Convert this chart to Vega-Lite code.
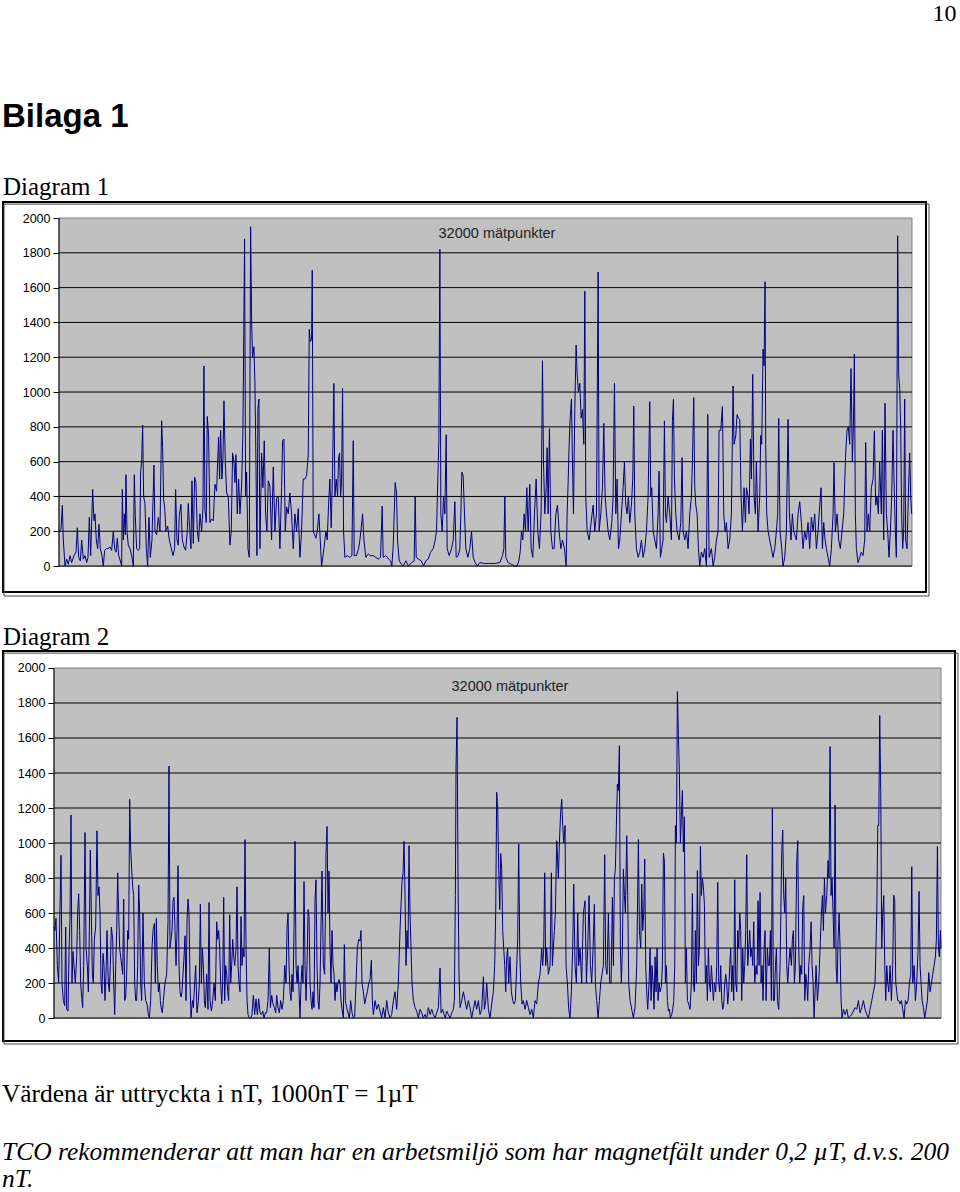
{
"$schema": "https://vega.github.io/schema/vega-lite/v6.json",
"background": "white",
"padding": {"left": 2, "top": 2, "right": 0, "bottom": 0},
"config": {
  "view": {"stroke": "black", "strokeWidth": 2, "fill": "white"},
  "axis": {"labelFont": "Liberation Sans", "labelFontSize": 12.5, "labelColor": "black", "tickColor": "black"}
},
"datasets": {
"d1": [
{"i":0,"v":200},{"i":75,"v":210},{"i":125,"v":350},{"i":162,"v":150},{"i":225,"v":0},{"i":288,"v":40},{"i":350,"v":10},{"i":412,"v":60},{"i":475,"v":20},{"i":562,"v":60},{"i":638,"v":80},{"i":688,"v":220},{"i":738,"v":50},{"i":800,"v":30},{"i":850,"v":150},{"i":912,"v":40},{"i":975,"v":60},{"i":1038,"v":20},{"i":1088,"v":50},{"i":1138,"v":280},{"i":1188,"v":60},{"i":1262,"v":440},{"i":1312,"v":260},{"i":1350,"v":300},{"i":1400,"v":150},{"i":1450,"v":100},{"i":1500,"v":240},{"i":1550,"v":100},{"i":1612,"v":60},{"i":1662,"v":0},{"i":1712,"v":90},{"i":1775,"v":100},{"i":1838,"v":100},{"i":1912,"v":110},{"i":1975,"v":90},{"i":2038,"v":200},{"i":2088,"v":100},{"i":2138,"v":80},{"i":2188,"v":160},{"i":2238,"v":60},{"i":2300,"v":30},{"i":2350,"v":0},{"i":2375,"v":440},{"i":2412,"v":150},{"i":2450,"v":300},{"i":2488,"v":180},{"i":2512,"v":525},{"i":2550,"v":200},{"i":2600,"v":120},{"i":2662,"v":100},{"i":2725,"v":60},{"i":2788,"v":0},{"i":2825,"v":525},{"i":2862,"v":290},{"i":2912,"v":100},{"i":2975,"v":90},{"i":3025,"v":100},{"i":3062,"v":540},{"i":3100,"v":600},{"i":3138,"v":810},{"i":3175,"v":400},{"i":3225,"v":360},{"i":3275,"v":100},{"i":3325,"v":0},{"i":3375,"v":280},{"i":3425,"v":50},{"i":3488,"v":150},{"i":3562,"v":580},{"i":3600,"v":200},{"i":3662,"v":180},{"i":3725,"v":280},{"i":3788,"v":200},{"i":3850,"v":835},{"i":3888,"v":680},{"i":3925,"v":380},{"i":3962,"v":340},{"i":4012,"v":200},{"i":4075,"v":230},{"i":4138,"v":150},{"i":4200,"v":110},{"i":4275,"v":60},{"i":4338,"v":100},{"i":4375,"v":440},{"i":4425,"v":150},{"i":4475,"v":120},{"i":4512,"v":290},{"i":4575,"v":355},{"i":4625,"v":150},{"i":4688,"v":110},{"i":4750,"v":90},{"i":4812,"v":200},{"i":4850,"v":360},{"i":4900,"v":220},{"i":4950,"v":100},{"i":4988,"v":490},{"i":5038,"v":130},{"i":5088,"v":510},{"i":5138,"v":480},{"i":5188,"v":200},{"i":5238,"v":140},{"i":5288,"v":300},{"i":5350,"v":200},{"i":5400,"v":330},{"i":5438,"v":1150},{"i":5475,"v":320},{"i":5525,"v":250},{"i":5562,"v":860},{"i":5612,"v":750},{"i":5662,"v":250},{"i":5725,"v":270},{"i":5788,"v":260},{"i":5850,"v":470},{"i":5912,"v":430},{"i":5950,"v":600},{"i":5988,"v":740},{"i":6025,"v":500},{"i":6062,"v":780},{"i":6112,"v":500},{"i":6150,"v":620},{"i":6188,"v":950},{"i":6238,"v":600},{"i":6288,"v":420},{"i":6350,"v":400},{"i":6412,"v":120},{"i":6462,"v":200},{"i":6512,"v":650},{"i":6562,"v":600},{"i":6600,"v":480},{"i":6638,"v":640},{"i":6688,"v":300},{"i":6738,"v":500},{"i":6788,"v":300},{"i":6850,"v":460},{"i":6900,"v":780},{"i":6962,"v":1880},{"i":7000,"v":400},{"i":7038,"v":540},{"i":7088,"v":100},{"i":7138,"v":50},{"i":7188,"v":1950},{"i":7225,"v":1420},{"i":7262,"v":1200},{"i":7312,"v":1260},{"i":7350,"v":1050},{"i":7388,"v":600},{"i":7425,"v":60},{"i":7462,"v":900},{"i":7500,"v":960},{"i":7538,"v":100},{"i":7600,"v":650},{"i":7650,"v":450},{"i":7700,"v":720},{"i":7750,"v":300},{"i":7800,"v":200},{"i":7850,"v":490},{"i":7912,"v":460},{"i":7975,"v":150},{"i":8038,"v":570},{"i":8100,"v":200},{"i":8162,"v":390},{"i":8225,"v":400},{"i":8288,"v":100},{"i":8350,"v":450},{"i":8388,"v":720},{"i":8438,"v":730},{"i":8488,"v":200},{"i":8538,"v":340},{"i":8600,"v":300},{"i":8662,"v":420},{"i":8725,"v":300},{"i":8788,"v":100},{"i":8850,"v":300},{"i":8912,"v":200},{"i":8975,"v":330},{"i":9038,"v":50},{"i":9100,"v":200},{"i":9162,"v":500},{"i":9225,"v":500},{"i":9288,"v":520},{"i":9350,"v":640},{"i":9388,"v":1360},{"i":9425,"v":1290},{"i":9475,"v":1300},{"i":9500,"v":1700},{"i":9538,"v":200},{"i":9588,"v":180},{"i":9638,"v":160},{"i":9688,"v":200},{"i":9750,"v":300},
{"i":9850,"v":0},{"i":9938,"v":100},{"i":10012,"v":200},{"i":10062,"v":150},{"i":10112,"v":350},{"i":10162,"v":500},{"i":10212,"v":220},{"i":10262,"v":550},{"i":10312,"v":1050},{"i":10350,"v":400},{"i":10400,"v":500},{"i":10450,"v":400},{"i":10488,"v":620},{"i":10525,"v":650},{"i":10562,"v":400},{"i":10600,"v":480},{"i":10638,"v":1020},{"i":10675,"v":200},{"i":10725,"v":50},{"i":10812,"v":60},{"i":10912,"v":50},{"i":10988,"v":60},{"i":11038,"v":720},{"i":11075,"v":60},{"i":11162,"v":60},{"i":11238,"v":100},{"i":11288,"v":150},{"i":11338,"v":220},{"i":11388,"v":300},{"i":11438,"v":150},{"i":11512,"v":50},{"i":11600,"v":70},{"i":11688,"v":60},{"i":11788,"v":60},{"i":11888,"v":50},{"i":11975,"v":40},{"i":12062,"v":50},{"i":12125,"v":345},{"i":12162,"v":50},{"i":12262,"v":60},{"i":12362,"v":40},{"i":12438,"v":30},{"i":12488,"v":0},{"i":12538,"v":120},{"i":12575,"v":300},{"i":12612,"v":480},{"i":12662,"v":420},{"i":12700,"v":150},{"i":12762,"v":30},{"i":12850,"v":10},{"i":12912,"v":0},{"i":13012,"v":30},{"i":13112,"v":0},{"i":13225,"v":20},{"i":13325,"v":30},{"i":13362,"v":400},{"i":13400,"v":50},{"i":13488,"v":40},{"i":13588,"v":30},{"i":13675,"v":0},{"i":13762,"v":30},{"i":13850,"v":40},{"i":13938,"v":80},{"i":14038,"v":100},{"i":14112,"v":150},{"i":14162,"v":200},{"i":14212,"v":500},{"i":14250,"v":720},{"i":14288,"v":1820},{"i":14325,"v":300},{"i":14375,"v":200},{"i":14425,"v":400},{"i":14475,"v":300},{"i":14525,"v":755},{"i":14562,"v":100},{"i":14638,"v":60},{"i":14725,"v":100},{"i":14788,"v":150},{"i":14850,"v":370},{"i":14900,"v":50},{"i":14975,"v":60},{"i":15038,"v":100},{"i":15075,"v":300},{"i":15112,"v":540},{"i":15162,"v":520},{"i":15212,"v":300},{"i":15262,"v":100},{"i":15338,"v":50},{"i":15412,"v":100},{"i":15475,"v":200},{"i":15538,"v":50},{"i":15612,"v":20},{"i":15688,"v":0},{"i":15788,"v":20},{"i":15975,"v":15},{"i":16162,"v":15},{"i":16350,"v":15},{"i":16538,"v":20},{"i":16638,"v":60},{"i":16688,"v":100},{"i":16725,"v":400},{"i":16762,"v":50},{"i":16850,"v":20},{"i":16975,"v":10},{"i":17100,"v":0},{"i":17188,"v":0},{"i":17250,"v":30},{"i":17300,"v":80},{"i":17350,"v":200},{"i":17400,"v":150},{"i":17450,"v":300},{"i":17500,"v":200},{"i":17550,"v":450},{"i":17600,"v":200},{"i":17662,"v":470},{"i":17712,"v":100},{"i":17775,"v":50},{"i":17838,"v":300},{"i":17900,"v":500},{"i":17962,"v":200},{"i":18025,"v":100},{"i":18088,"v":320},{"i":18138,"v":1180},{"i":18175,"v":600},{"i":18225,"v":300},{"i":18275,"v":450},{"i":18312,"v":680},{"i":18350,"v":300},{"i":18400,"v":790},{"i":18450,"v":200},{"i":18512,"v":100},{"i":18575,"v":100},{"i":18638,"v":300},{"i":18700,"v":350},{"i":18762,"v":200},{"i":18825,"v":100},{"i":18888,"v":150},{"i":18962,"v":100},{"i":19025,"v":0},{"i":19062,"v":300},{"i":19100,"v":480},{"i":19138,"v":700},{"i":19175,"v":850},{"i":19225,"v":960},{"i":19262,"v":600},{"i":19300,"v":300},{"i":19350,"v":900},{"i":19400,"v":1270},{"i":19438,"v":1100},{"i":19488,"v":1000},{"i":19538,"v":1050},{"i":19588,"v":850},{"i":19638,"v":900},{"i":19688,"v":700},{"i":19725,"v":1580},{"i":19762,"v":400},{"i":19812,"v":200},{"i":19888,"v":150},{"i":19962,"v":250},{"i":20038,"v":350},{"i":20100,"v":200},{"i":20162,"v":300},{"i":20225,"v":1690},{"i":20262,"v":200},{"i":20325,"v":300},{"i":20388,"v":450},{"i":20438,"v":820},{"i":20488,"v":400},{"i":20538,"v":300},{"i":20600,"v":200},{"i":20662,"v":150},{"i":20738,"v":250},{"i":20788,"v":400},{"i":20838,"v":1050},{"i":20888,"v":300},{"i":20938,"v":500},{"i":20988,"v":100},{"i":21038,"v":150},{"i":21100,"v":300},{"i":21162,"v":450},{"i":21212,"v":600},{"i":21262,"v":350},{"i":21312,"v":300},{"i":21362,"v":400},{"i":21412,"v":250},
{"i":21475,"v":350},{"i":21525,"v":500},{"i":21562,"v":920},{"i":21600,"v":300},{"i":21662,"v":100},{"i":21725,"v":50},{"i":21788,"v":80},{"i":21850,"v":150},{"i":21912,"v":50},{"i":21975,"v":100},{"i":22038,"v":200},{"i":22100,"v":400},{"i":22162,"v":945},{"i":22200,"v":400},{"i":22238,"v":450},{"i":22288,"v":200},{"i":22350,"v":150},{"i":22412,"v":100},{"i":22475,"v":300},{"i":22512,"v":546},{"i":22562,"v":50},{"i":22612,"v":100},{"i":22662,"v":150},{"i":22712,"v":834},{"i":22750,"v":300},{"i":22788,"v":250},{"i":22850,"v":400},{"i":22912,"v":300},{"i":22975,"v":150},{"i":23012,"v":830},{"i":23050,"v":958},{"i":23088,"v":500},{"i":23138,"v":300},{"i":23188,"v":200},{"i":23262,"v":150},{"i":23325,"v":250},{"i":23375,"v":623},{"i":23412,"v":200},{"i":23475,"v":150},{"i":23538,"v":200},{"i":23600,"v":100},{"i":23662,"v":300},{"i":23725,"v":400},{"i":23762,"v":600},{"i":23812,"v":968},{"i":23850,"v":450},{"i":23888,"v":350},{"i":23938,"v":300},{"i":23988,"v":100},{"i":24038,"v":0},{"i":24100,"v":80},{"i":24162,"v":50},{"i":24225,"v":100},{"i":24288,"v":0},{"i":24338,"v":872},{"i":24388,"v":50},{"i":24475,"v":100},{"i":24538,"v":0},{"i":24600,"v":50},{"i":24662,"v":150},{"i":24725,"v":200},{"i":24762,"v":780},{"i":24825,"v":780},{"i":24888,"v":917},{"i":24938,"v":300},{"i":24988,"v":200},{"i":25038,"v":250},{"i":25100,"v":100},{"i":25162,"v":150},{"i":25225,"v":300},{"i":25288,"v":1035},{"i":25325,"v":700},{"i":25388,"v":750},{"i":25438,"v":870},{"i":25488,"v":850},{"i":25538,"v":843},{"i":25588,"v":400},{"i":25638,"v":200},{"i":25700,"v":450},{"i":25750,"v":250},{"i":25788,"v":450},{"i":25850,"v":400},{"i":25888,"v":300},{"i":25938,"v":730},{"i":25975,"v":500},{"i":26025,"v":1102},{"i":26075,"v":400},{"i":26125,"v":300},{"i":26162,"v":600},{"i":26225,"v":200},{"i":26288,"v":400},{"i":26325,"v":750},{"i":26362,"v":700},{"i":26412,"v":1246},{"i":26450,"v":1150},{"i":26488,"v":1634},{"i":26512,"v":700},{"i":26550,"v":300},{"i":26600,"v":200},{"i":26662,"v":150},{"i":26725,"v":100},{"i":26788,"v":50},{"i":26850,"v":100},{"i":26912,"v":200},{"i":26962,"v":300},{"i":27000,"v":848},{"i":27050,"v":200},{"i":27112,"v":100},{"i":27162,"v":0},{"i":27225,"v":50},{"i":27288,"v":200},{"i":27350,"v":843},{"i":27400,"v":300},{"i":27462,"v":150},{"i":27512,"v":300},{"i":27562,"v":200},{"i":27662,"v":150},{"i":27725,"v":300},{"i":27788,"v":370},{"i":27850,"v":250},{"i":27912,"v":100},{"i":27975,"v":200},{"i":28038,"v":150},{"i":28100,"v":250},{"i":28162,"v":100},{"i":28225,"v":280},{"i":28288,"v":200},{"i":28350,"v":300},{"i":28412,"v":100},{"i":28475,"v":200},{"i":28538,"v":350},{"i":28588,"v":450},{"i":28638,"v":100},{"i":28688,"v":250},{"i":28738,"v":150},{"i":28788,"v":100},{"i":28850,"v":50},{"i":28912,"v":0},{"i":28975,"v":100},{"i":29038,"v":300},{"i":29075,"v":594},{"i":29125,"v":200},{"i":29188,"v":300},{"i":29250,"v":150},{"i":29312,"v":100},{"i":29375,"v":200},{"i":29438,"v":300},{"i":29512,"v":650},{"i":29562,"v":780},{"i":29612,"v":800},{"i":29662,"v":700},{"i":29712,"v":1135},{"i":29762,"v":600},{"i":29800,"v":800},{"i":29838,"v":1218},{"i":29875,"v":300},{"i":29912,"v":100},{"i":29975,"v":20},{"i":30038,"v":50},{"i":30100,"v":80},{"i":30162,"v":60},{"i":30225,"v":150},{"i":30262,"v":710},{"i":30312,"v":200},{"i":30362,"v":300},{"i":30412,"v":200},{"i":30475,"v":450},{"i":30538,"v":500},{"i":30588,"v":777},{"i":30638,"v":350},{"i":30688,"v":400},{"i":30738,"v":300},{"i":30788,"v":600},{"i":30850,"v":300},{"i":30888,"v":780},{"i":30938,"v":150},{"i":30988,"v":936},{"i":31038,"v":300},{"i":31088,"v":200},{"i":31138,"v":50},{"i":31188,"v":200},{"i":31238,"v":400},{"i":31288,"v":780},{"i":31325,"v":500},{"i":31375,"v":200},{"i":31412,"v":50},{"i":31462,"v":1898},{"i":31500,"v":1100},{"i":31538,"v":1020},{"i":31575,"v":800},{"i":31612,"v":300},{"i":31650,"v":100},{"i":31688,"v":200},{"i":31725,"v":960},{"i":31762,"v":150},{"i":31812,"v":100},{"i":31862,"v":400},{"i":31912,"v":650},{"i":31950,"v":400},{"i":31988,"v":300}
],
"d2": [
{"i":0,"v":520},{"i":36,"v":500},{"i":72,"v":570},{"i":120,"v":300},{"i":168,"v":200},{"i":217,"v":640},{"i":253,"v":930},{"i":289,"v":200},{"i":337,"v":100},{"i":385,"v":70},{"i":421,"v":520},{"i":457,"v":50},{"i":505,"v":40},{"i":541,"v":380},{"i":577,"v":570},{"i":613,"v":1160},{"i":649,"v":200},{"i":686,"v":380},{"i":722,"v":300},{"i":770,"v":200},{"i":818,"v":350},{"i":854,"v":600},{"i":890,"v":710},{"i":926,"v":500},{"i":962,"v":200},{"i":998,"v":120},{"i":1034,"v":60},{"i":1070,"v":300},{"i":1119,"v":1060},{"i":1155,"v":400},{"i":1203,"v":300},{"i":1239,"v":150},{"i":1275,"v":500},{"i":1311,"v":960},{"i":1347,"v":600},{"i":1383,"v":250},{"i":1419,"v":200},{"i":1455,"v":450},{"i":1503,"v":520},{"i":1551,"v":1070},{"i":1588,"v":700},{"i":1624,"v":750},{"i":1660,"v":600},{"i":1696,"v":200},{"i":1732,"v":140},{"i":1768,"v":370},{"i":1804,"v":300},{"i":1840,"v":100},{"i":1876,"v":250},{"i":1912,"v":500},{"i":1960,"v":200},{"i":1996,"v":150},{"i":2033,"v":300},{"i":2069,"v":520},{"i":2117,"v":450},{"i":2153,"v":200},{"i":2189,"v":20},{"i":2225,"v":300},{"i":2261,"v":500},{"i":2297,"v":830},{"i":2333,"v":600},{"i":2369,"v":400},{"i":2405,"v":350},{"i":2441,"v":300},{"i":2478,"v":250},{"i":2514,"v":680},{"i":2550,"v":100},{"i":2586,"v":120},{"i":2622,"v":250},{"i":2658,"v":500},{"i":2694,"v":450},{"i":2730,"v":1250},{"i":2766,"v":970},{"i":2802,"v":850},{"i":2838,"v":750},{"i":2874,"v":700},{"i":2911,"v":200},{"i":2947,"v":100},{"i":2983,"v":100},{"i":3019,"v":300},{"i":3055,"v":760},{"i":3091,"v":600},{"i":3127,"v":200},{"i":3163,"v":100},{"i":3211,"v":600},{"i":3259,"v":200},{"i":3307,"v":100},{"i":3356,"v":80},{"i":3404,"v":20},{"i":3440,"v":0},{"i":3488,"v":100},{"i":3536,"v":400},{"i":3572,"v":500},{"i":3620,"v":540},{"i":3656,"v":200},{"i":3692,"v":570},{"i":3728,"v":300},{"i":3764,"v":150},{"i":3801,"v":200},{"i":3837,"v":100},{"i":3873,"v":50},{"i":3909,"v":30},{"i":3945,"v":100},{"i":4005,"v":200},{"i":4065,"v":250},{"i":4113,"v":550},{"i":4149,"v":1440},{"i":4185,"v":400},{"i":4221,"v":450},{"i":4258,"v":500},{"i":4294,"v":670},{"i":4330,"v":690},{"i":4366,"v":500},{"i":4402,"v":300},{"i":4438,"v":500},{"i":4474,"v":870},{"i":4510,"v":300},{"i":4546,"v":150},{"i":4582,"v":120},{"i":4618,"v":150},{"i":4654,"v":250},{"i":4691,"v":350},{"i":4727,"v":470},{"i":4763,"v":100},{"i":4799,"v":550},{"i":4835,"v":680},{"i":4871,"v":600},{"i":4907,"v":200},{"i":4943,"v":0},{"i":4991,"v":100},{"i":5027,"v":60},{"i":5075,"v":200},{"i":5111,"v":300},{"i":5160,"v":30},{"i":5208,"v":100},{"i":5244,"v":200},{"i":5280,"v":650},{"i":5316,"v":200},{"i":5352,"v":400},{"i":5388,"v":300},{"i":5424,"v":100},{"i":5460,"v":60},{"i":5508,"v":250},{"i":5556,"v":50},{"i":5593,"v":660},{"i":5629,"v":100},{"i":5677,"v":40},{"i":5725,"v":100},{"i":5773,"v":200},{"i":5821,"v":100},{"i":5869,"v":550},{"i":5905,"v":450},{"i":5941,"v":500},{"i":5977,"v":400},{"i":6014,"v":200},{"i":6050,"v":80},{"i":6086,"v":200},{"i":6122,"v":690},{"i":6158,"v":100},{"i":6194,"v":300},{"i":6230,"v":250},{"i":6266,"v":150},{"i":6302,"v":100},{"i":6338,"v":590},{"i":6374,"v":200},{"i":6410,"v":300},{"i":6446,"v":450},{"i":6483,"v":350},{"i":6519,"v":300},{"i":6567,"v":400},{"i":6603,"v":750},{"i":6639,"v":300},{"i":6675,"v":200},{"i":6711,"v":150},{"i":6747,"v":580},{"i":6783,"v":300},{"i":6819,"v":400},{"i":6855,"v":350},{"i":6891,"v":1020},{"i":6928,"v":400},{"i":6964,"v":100},{"i":7000,"v":20},{"i":7048,"v":0},{"i":7096,"v":0},{"i":7144,"v":20},{"i":7192,"v":130},{"i":7240,"v":20},{"i":7288,"v":110},{"i":7336,"v":20},{"i":7385,"v":110},{"i":7433,"v":30},{"i":7481,"v":20},{"i":7529,"v":40},{"i":7577,"v":0},{"i":7625,"v":30},{"i":7673,"v":30},{"i":7721,"v":100},{"i":7769,"v":400},{"i":7805,"v":60},{"i":7854,"v":130},{"i":7902,"v":80},{"i":7950,"v":60},{"i":7998,"v":30},{"i":8034,"v":130},{"i":8082,"v":60},{"i":8130,"v":30},{"i":8178,"v":100},{"i":8226,"v":50},{"i":8274,"v":100},{"i":8323,"v":300},{"i":8371,"v":200},{"i":8407,"v":510},{"i":8443,"v":600},{"i":8479,"v":300},{"i":8515,"v":150},{"i":8551,"v":100},{"i":8587,"v":250},{"i":8623,"v":150},{"i":8659,"v":500},{"i":8696,"v":1010},{"i":8732,"v":300},{"i":8768,"v":200},{"i":8804,"v":300},{"i":8840,"v":150},{"i":8876,"v":0},{"i":8912,"v":200},{"i":8948,"v":300},{"i":8984,"v":200},{"i":9020,"v":780},{"i":9056,"v":300},{"i":9092,"v":100},{"i":9128,"v":300},{"i":9165,"v":620},{"i":9201,"v":580},{"i":9237,"v":200},{"i":9273,"v":100},{"i":9309,"v":50},{"i":9345,"v":150},{"i":9381,"v":60},{"i":9417,"v":680},{"i":9453,"v":790},{"i":9489,"v":300},{"i":9525,"v":100},{"i":9561,"v":50},
{"i":9597,"v":200},{"i":9669,"v":840},{"i":9717,"v":300},{"i":9765,"v":250},{"i":9813,"v":940},{"i":9850,"v":1095},{"i":9886,"v":600},{"i":9922,"v":840},{"i":9958,"v":400},{"i":9994,"v":200},{"i":10030,"v":500},{"i":10066,"v":300},{"i":10102,"v":250},{"i":10138,"v":100},{"i":10174,"v":200},{"i":10210,"v":150},{"i":10246,"v":200},{"i":10283,"v":220},{"i":10319,"v":200},{"i":10355,"v":100},{"i":10391,"v":50},{"i":10439,"v":0},{"i":10475,"v":420},{"i":10511,"v":100},{"i":10559,"v":60},{"i":10607,"v":30},{"i":10655,"v":0},{"i":10703,"v":100},{"i":10752,"v":30},{"i":10800,"v":0},{"i":10848,"v":10},{"i":10896,"v":200},{"i":10944,"v":400},{"i":10992,"v":450},{"i":11040,"v":440},{"i":11076,"v":500},{"i":11112,"v":200},{"i":11161,"v":150},{"i":11209,"v":80},{"i":11257,"v":120},{"i":11305,"v":150},{"i":11353,"v":200},{"i":11401,"v":220},{"i":11449,"v":330},{"i":11485,"v":100},{"i":11521,"v":20},{"i":11581,"v":100},{"i":11642,"v":50},{"i":11702,"v":80},{"i":11762,"v":40},{"i":11822,"v":0},{"i":11882,"v":60},{"i":11942,"v":0},{"i":12002,"v":100},{"i":12063,"v":30},{"i":12123,"v":0},{"i":12183,"v":20},{"i":12243,"v":100},{"i":12303,"v":150},{"i":12363,"v":50},{"i":12423,"v":200},{"i":12483,"v":500},{"i":12520,"v":650},{"i":12556,"v":780},{"i":12592,"v":830},{"i":12628,"v":1010},{"i":12664,"v":700},{"i":12700,"v":300},{"i":12736,"v":500},{"i":12772,"v":400},{"i":12808,"v":985},{"i":12844,"v":600},{"i":12880,"v":400},{"i":12916,"v":200},{"i":12965,"v":100},{"i":13025,"v":60},{"i":13085,"v":40},{"i":13145,"v":0},{"i":13205,"v":50},{"i":13265,"v":30},{"i":13325,"v":0},{"i":13386,"v":20},{"i":13446,"v":0},{"i":13506,"v":60},{"i":13566,"v":20},{"i":13626,"v":50},{"i":13686,"v":20},{"i":13746,"v":0},{"i":13806,"v":30},{"i":13867,"v":60},{"i":13927,"v":286},{"i":13963,"v":30},{"i":14023,"v":50},{"i":14071,"v":20},{"i":14119,"v":0},{"i":14167,"v":40},{"i":14227,"v":20},{"i":14288,"v":0},{"i":14348,"v":30},{"i":14408,"v":50},{"i":14444,"v":100},{"i":14480,"v":700},{"i":14504,"v":1440},{"i":14540,"v":1718},{"i":14576,"v":800},{"i":14612,"v":250},{"i":14648,"v":60},{"i":14708,"v":100},{"i":14769,"v":150},{"i":14829,"v":100},{"i":14889,"v":50},{"i":14949,"v":100},{"i":15009,"v":60},{"i":15069,"v":0},{"i":15129,"v":50},{"i":15190,"v":100},{"i":15250,"v":50},{"i":15310,"v":100},{"i":15370,"v":20},{"i":15430,"v":50},{"i":15490,"v":236},{"i":15526,"v":50},{"i":15574,"v":100},{"i":15611,"v":200},{"i":15671,"v":50},{"i":15731,"v":0},{"i":15791,"v":80},{"i":15851,"v":150},{"i":15899,"v":300},{"i":15935,"v":600},{"i":15971,"v":1290},{"i":16007,"v":1200},{"i":16043,"v":850},{"i":16080,"v":620},{"i":16116,"v":940},{"i":16152,"v":850},{"i":16188,"v":500},{"i":16224,"v":400},{"i":16260,"v":300},{"i":16296,"v":150},{"i":16332,"v":350},{"i":16368,"v":400},{"i":16404,"v":200},{"i":16452,"v":350},{"i":16500,"v":150},{"i":16549,"v":100},{"i":16597,"v":80},{"i":16645,"v":100},{"i":16693,"v":300},{"i":16729,"v":450},{"i":16765,"v":994},{"i":16801,"v":400},{"i":16837,"v":200},{"i":16885,"v":80},{"i":16933,"v":100},{"i":16994,"v":50},{"i":17054,"v":100},{"i":17114,"v":60},{"i":17174,"v":20},{"i":17234,"v":50},{"i":17294,"v":0},{"i":17354,"v":100},{"i":17415,"v":80},{"i":17475,"v":200},{"i":17535,"v":250},{"i":17595,"v":400},{"i":17631,"v":300},{"i":17667,"v":400},{"i":17703,"v":830},{"i":17739,"v":300},{"i":17775,"v":400},{"i":17835,"v":250},{"i":17896,"v":300},{"i":17944,"v":830},{"i":17980,"v":300},{"i":18016,"v":400},{"i":18052,"v":500},{"i":18088,"v":600},{"i":18136,"v":1013},{"i":18196,"v":800},{"i":18232,"v":1000},{"i":18280,"v":1180},{"i":18317,"v":1250},{"i":18353,"v":1100},{"i":18389,"v":1000},{"i":18437,"v":1100},{"i":18473,"v":300},{"i":18521,"v":200},{"i":18569,"v":50},{"i":18617,"v":0},{"i":18665,"v":150},{"i":18713,"v":400},{"i":18750,"v":766},{"i":18798,"v":300},{"i":18846,"v":200},{"i":18894,"v":600},{"i":18930,"v":300},{"i":18978,"v":400},{"i":19038,"v":200},{"i":19098,"v":600},{"i":19158,"v":670},{"i":19207,"v":200},{"i":19255,"v":400},{"i":19303,"v":700},{"i":19351,"v":300},{"i":19399,"v":200},{"i":19447,"v":400},{"i":19495,"v":650},{"i":19531,"v":200},{"i":19579,"v":100},{"i":19628,"v":0},{"i":19676,"v":100},{"i":19724,"v":200},{"i":19772,"v":250},{"i":19820,"v":300},{"i":19868,"v":933},{"i":19904,"v":300},{"i":19952,"v":250},{"i":20000,"v":600},{"i":20048,"v":200},{"i":20097,"v":200},{"i":20145,"v":690},{"i":20181,"v":300},{"i":20217,"v":800},{"i":20253,"v":850},{"i":20289,"v":1100},{"i":20325,"v":1337},{"i":20361,"v":1300},{"i":20397,"v":1556},{"i":20433,"v":400},{"i":20469,"v":200},{"i":20505,"v":400},{"i":20542,"v":850},{"i":20578,"v":700},{"i":20614,"v":600},{"i":20662,"v":1042},{"i":20698,"v":700},{"i":20734,"v":200},
{"i":20782,"v":100},{"i":20842,"v":50},{"i":20902,"v":0},{"i":20962,"v":60},{"i":21023,"v":300},{"i":21083,"v":1020},{"i":21119,"v":500},{"i":21167,"v":400},{"i":21203,"v":766},{"i":21239,"v":500},{"i":21275,"v":600},{"i":21311,"v":909},{"i":21347,"v":300},{"i":21383,"v":150},{"i":21419,"v":50},{"i":21468,"v":200},{"i":21504,"v":400},{"i":21540,"v":100},{"i":21576,"v":300},{"i":21612,"v":200},{"i":21648,"v":50},{"i":21684,"v":350},{"i":21720,"v":150},{"i":21756,"v":400},{"i":21792,"v":100},{"i":21828,"v":200},{"i":21864,"v":150},{"i":21913,"v":180},{"i":21949,"v":300},{"i":21985,"v":943},{"i":22021,"v":900},{"i":22057,"v":200},{"i":22093,"v":300},{"i":22129,"v":100},{"i":22165,"v":40},{"i":22201,"v":50},{"i":22237,"v":0},{"i":22285,"v":20},{"i":22321,"v":50},{"i":22358,"v":100},{"i":22394,"v":300},{"i":22418,"v":1100},{"i":22454,"v":1000},{"i":22490,"v":1865},{"i":22526,"v":1613},{"i":22562,"v":1400},{"i":22598,"v":1000},{"i":22634,"v":1150},{"i":22670,"v":1300},{"i":22706,"v":950},{"i":22742,"v":1150},{"i":22778,"v":200},{"i":22815,"v":400},{"i":22851,"v":100},{"i":22899,"v":80},{"i":22947,"v":50},{"i":22995,"v":200},{"i":23031,"v":712},{"i":23067,"v":200},{"i":23103,"v":150},{"i":23139,"v":500},{"i":23175,"v":200},{"i":23211,"v":842},{"i":23247,"v":300},{"i":23284,"v":400},{"i":23320,"v":981},{"i":23356,"v":700},{"i":23392,"v":800},{"i":23428,"v":750},{"i":23464,"v":650},{"i":23500,"v":200},{"i":23536,"v":300},{"i":23572,"v":100},{"i":23608,"v":400},{"i":23644,"v":200},{"i":23680,"v":150},{"i":23717,"v":300},{"i":23753,"v":200},{"i":23789,"v":100},{"i":23825,"v":200},{"i":23873,"v":150},{"i":23909,"v":300},{"i":23945,"v":775},{"i":23981,"v":200},{"i":24017,"v":150},{"i":24053,"v":300},{"i":24089,"v":100},{"i":24126,"v":50},{"i":24162,"v":80},{"i":24198,"v":200},{"i":24234,"v":250},{"i":24270,"v":200},{"i":24306,"v":80},{"i":24342,"v":150},{"i":24378,"v":300},{"i":24414,"v":400},{"i":24450,"v":150},{"i":24486,"v":300},{"i":24522,"v":100},{"i":24558,"v":790},{"i":24595,"v":200},{"i":24631,"v":150},{"i":24667,"v":500},{"i":24703,"v":400},{"i":24739,"v":600},{"i":24775,"v":500},{"i":24811,"v":100},{"i":24847,"v":400},{"i":24883,"v":200},{"i":24919,"v":300},{"i":24955,"v":500},{"i":24991,"v":933},{"i":25027,"v":300},{"i":25064,"v":400},{"i":25100,"v":500},{"i":25136,"v":350},{"i":25172,"v":400},{"i":25208,"v":300},{"i":25244,"v":550},{"i":25280,"v":200},{"i":25328,"v":300},{"i":25364,"v":250},{"i":25400,"v":670},{"i":25436,"v":300},{"i":25473,"v":718},{"i":25509,"v":200},{"i":25545,"v":300},{"i":25581,"v":100},{"i":25617,"v":400},{"i":25653,"v":500},{"i":25689,"v":100},{"i":25737,"v":400},{"i":25773,"v":300},{"i":25809,"v":300},{"i":25845,"v":500},{"i":25881,"v":100},{"i":25917,"v":1198},{"i":25954,"v":100},{"i":25990,"v":100},{"i":26026,"v":300},{"i":26062,"v":400},{"i":26098,"v":100},{"i":26146,"v":50},{"i":26194,"v":300},{"i":26254,"v":950},{"i":26290,"v":1074},{"i":26326,"v":700},{"i":26363,"v":600},{"i":26399,"v":800},{"i":26435,"v":300},{"i":26471,"v":200},{"i":26507,"v":300},{"i":26555,"v":400},{"i":26603,"v":300},{"i":26639,"v":450},{"i":26675,"v":500},{"i":26711,"v":200},{"i":26747,"v":300},{"i":26796,"v":900},{"i":26832,"v":1013},{"i":26868,"v":400},{"i":26904,"v":200},{"i":26940,"v":300},{"i":26976,"v":250},{"i":27012,"v":632},{"i":27048,"v":700},{"i":27084,"v":100},{"i":27120,"v":250},{"i":27156,"v":200},{"i":27192,"v":100},{"i":27228,"v":300},{"i":27277,"v":400},{"i":27313,"v":550},{"i":27349,"v":300},{"i":27385,"v":200},{"i":27421,"v":0},{"i":27457,"v":150},{"i":27493,"v":300},{"i":27541,"v":100},{"i":27589,"v":200},{"i":27637,"v":400},{"i":27685,"v":600},{"i":27722,"v":700},{"i":27758,"v":500},{"i":27794,"v":800},{"i":27830,"v":600},{"i":27878,"v":700},{"i":27926,"v":900},{"i":27962,"v":800},{"i":27998,"v":1551},{"i":28034,"v":700},{"i":28070,"v":800},{"i":28106,"v":600},{"i":28143,"v":400},{"i":28179,"v":1217},{"i":28215,"v":300},{"i":28251,"v":200},{"i":28287,"v":450},{"i":28323,"v":600},{"i":28359,"v":400},{"i":28395,"v":100},{"i":28431,"v":0},{"i":28479,"v":50},{"i":28539,"v":20},{"i":28600,"v":50},{"i":28660,"v":0},{"i":28720,"v":10},{"i":28780,"v":20},{"i":28840,"v":40},{"i":28900,"v":60},{"i":28960,"v":50},{"i":29020,"v":100},{"i":29081,"v":30},{"i":29141,"v":60},{"i":29201,"v":100},{"i":29261,"v":50},{"i":29321,"v":20},{"i":29381,"v":0},{"i":29441,"v":50},{"i":29502,"v":100},{"i":29562,"v":150},{"i":29622,"v":200},{"i":29682,"v":600},{"i":29718,"v":1100},{"i":29754,"v":1100},{"i":29790,"v":1728},{"i":29826,"v":1300},{"i":29862,"v":400},{"i":29898,"v":600},{"i":29935,"v":700},{"i":29971,"v":300},{"i":30007,"v":100},{"i":30043,"v":300},{"i":30079,"v":200},{"i":30115,"v":150},{"i":30163,"v":300},{"i":30211,"v":100},{"i":30259,"v":300},{"i":30295,"v":703},{"i":30331,"v":670},{"i":30368,"v":200},{"i":30404,"v":150},{"i":30440,"v":100},{"i":30476,"v":100},{"i":30524,"v":80},{"i":30572,"v":100},{"i":30620,"v":50},{"i":30668,"v":0},{"i":30716,"v":100},{"i":30764,"v":80},{"i":30812,"v":100},{"i":30861,"v":200},{"i":30909,"v":250},{"i":30945,"v":865},{"i":30981,"v":200},{"i":31029,"v":300},{"i":31077,"v":100},{"i":31125,"v":200},{"i":31173,"v":400},{"i":31209,"v":724},{"i":31245,"v":300},{"i":31281,"v":200},{"i":31318,"v":100},{"i":31366,"v":60},{"i":31414,"v":0},{"i":31462,"v":50},{"i":31510,"v":100},{"i":31558,"v":260},{"i":31606,"v":150},{"i":31654,"v":200},{"i":31702,"v":250},{"i":31750,"v":300},{"i":31798,"v":350},{"i":31834,"v":450},{"i":31870,"v":981},{"i":31906,"v":400},{"i":31942,"v":350},{"i":31978,"v":500},{"i":32000,"v":400}
]
},
"title": {"text": "10", "anchor": "end", "font": "Liberation Serif", "fontSize": 24, "fontWeight": "normal", "color": "black", "offset": 75, "dx": -3},
"spacing": 26,
"vconcat": [
  {
    "title": {"text": "Bilaga 1", "anchor": "start", "font": "Liberation Sans", "fontSize": 33, "fontWeight": "bold", "color": "black", "offset": 40},
    "vconcat": [
      {
        "title": {"text": "Diagram 1", "anchor": "start", "frame": "group", "font": "Liberation Serif", "fontSize": 25, "fontWeight": "normal", "color": "black", "offset": 2},
        "width": 923,
        "height": 390,
        "layer": [
          {
            "data": {"values": [{}]},
            "mark": {"type": "rect", "fill": null, "fillOpacity": 0, "stroke": "#444444", "strokeWidth": 1},
            "encoding": {
              "x": {"datum": -2063, "type": "quantitative", "scale": {"domain": [-2101, 32525], "nice": false, "zero": false}, "axis": null},
              "x2": {"datum": 32638},
              "y": {"datum": -172, "type": "quantitative", "scale": {"domain": [-149, 2092], "nice": false, "zero": false}, "axis": {"values": [0,200,400,600,800,1000,1200,1400,1600,1800,2000], "format": "d", "offset": -56, "domain": false, "grid": false, "tickSize": 6, "labelPadding": 3, "title": null}},
              "y2": {"datum": 2080}
            }
          },
          {
            "data": {"values": [{}]},
            "mark": {"type": "rect", "fill": "#c0c0c0", "stroke": "#808080", "strokeWidth": 1},
            "encoding": {
              "x": {"datum": 0, "type": "quantitative", "scale": {"domain": [-2101, 32525], "nice": false, "zero": false}, "axis": null},
              "x2": {"datum": 32000},
              "y": {"datum": 0, "type": "quantitative", "scale": {"domain": [-149, 2092], "nice": false, "zero": false}, "axis": {"values": [0,200,400,600,800,1000,1200,1400,1600,1800,2000], "format": "d", "offset": -56, "domain": false, "grid": false, "tickSize": 6, "labelPadding": 3, "title": null}},
              "y2": {"datum": 2000}
            }
          },
          {
            "data": {"values": [{"g":0},{"g":200},{"g":400},{"g":600},{"g":800},{"g":1000},{"g":1200},{"g":1400},{"g":1600},{"g":1800}]},
            "mark": {"type": "rule", "stroke": "black", "strokeWidth": 1},
            "encoding": {
              "x": {"datum": 0, "type": "quantitative", "scale": {"domain": [-2101, 32525], "nice": false, "zero": false}, "axis": null},
              "x2": {"datum": 32000},
              "y": {"field": "g", "type": "quantitative", "scale": {"domain": [-149, 2092], "nice": false, "zero": false}, "axis": {"values": [0,200,400,600,800,1000,1200,1400,1600,1800,2000], "format": "d", "offset": -56, "domain": false, "grid": false, "tickSize": 6, "labelPadding": 3, "title": null}}
            }
          },
          {
            "data": {"values": [{}]},
            "mark": {"type": "rule", "stroke": "black", "strokeWidth": 1},
            "encoding": {
              "x": {"datum": 0, "type": "quantitative", "scale": {"domain": [-2101, 32525], "nice": false, "zero": false}, "axis": null},
              "y": {"datum": 0, "type": "quantitative", "scale": {"domain": [-149, 2092], "nice": false, "zero": false}, "axis": {"values": [0,200,400,600,800,1000,1200,1400,1600,1800,2000], "format": "d", "offset": -56, "domain": false, "grid": false, "tickSize": 6, "labelPadding": 3, "title": null}},
              "y2": {"datum": 2000}
            }
          },
          {
            "data": {"name": "d1"},
            "mark": {"type": "line", "stroke": "#000080", "strokeWidth": 1},
            "encoding": {
              "x": {"field": "i", "type": "quantitative", "scale": {"domain": [-2101, 32525], "nice": false, "zero": false}, "axis": null},
              "y": {"field": "v", "type": "quantitative", "scale": {"domain": [-149, 2092], "nice": false, "zero": false}, "axis": {"values": [0,200,400,600,800,1000,1200,1400,1600,1800,2000], "format": "d", "offset": -56, "domain": false, "grid": false, "tickSize": 6, "labelPadding": 3, "title": null}}
            }
          },
          {
            "data": {"values": [{}]},
            "mark": {"type": "text", "font": "Liberation Sans", "fontSize": 14.5, "color": "#222222", "align": "center", "baseline": "middle"},
            "encoding": {
              "x": {"datum": 16430, "type": "quantitative", "scale": {"domain": [-2101, 32525], "nice": false, "zero": false}, "axis": null},
              "y": {"datum": 1908, "type": "quantitative", "scale": {"domain": [-149, 2092], "nice": false, "zero": false}, "axis": {"values": [0,200,400,600,800,1000,1200,1400,1600,1800,2000], "format": "d", "offset": -56, "domain": false, "grid": false, "tickSize": 6, "labelPadding": 3, "title": null}},
              "text": {"value": "32000 mätpunkter"}
            }
          }
        ]
      }
    ]
  },
  {
    "title": {"text": "Värdena är uttryckta i nT, 1000nT = 1µT", "orient": "bottom", "anchor": "start", "font": "Liberation Serif", "fontSize": 25.4, "fontWeight": "normal", "color": "black", "offset": 37,
      "subtitle": ["TCO rekommenderar att man har en arbetsmiljö som har magnetfält under 0,2 µT, d.v.s. 200", "nT."],
      "subtitleFont": "Liberation Serif", "subtitleFontStyle": "italic", "subtitleFontSize": 25.5, "subtitleColor": "black", "subtitleLineHeight": 27, "subtitlePadding": 32},
    "vconcat": [
      {
        "title": {"text": "Diagram 2", "anchor": "start", "frame": "group", "font": "Liberation Serif", "fontSize": 25, "fontWeight": "normal", "color": "black", "offset": 1},
        "width": 952,
        "height": 390,
        "layer": [
          {
            "data": {"values": [{}]},
            "mark": {"type": "rect", "fill": null, "fillOpacity": 0, "stroke": "#444444", "strokeWidth": 1},
            "encoding": {
              "x": {"datum": -1804, "type": "quantitative", "scale": {"domain": [-1840, 32505], "nice": false, "zero": false}, "axis": null},
              "x2": {"datum": 32613},
              "y": {"datum": -148, "type": "quantitative", "scale": {"domain": [-131, 2097], "nice": false, "zero": false}, "axis": {"values": [0,200,400,600,800,1000,1200,1400,1600,1800,2000], "format": "d", "offset": -51, "domain": false, "grid": false, "tickSize": 6, "labelPadding": 3, "title": null}},
              "y2": {"datum": 2085}
            }
          },
          {
            "data": {"values": [{}]},
            "mark": {"type": "rect", "fill": "#c0c0c0", "stroke": "#808080", "strokeWidth": 1},
            "encoding": {
              "x": {"datum": 0, "type": "quantitative", "scale": {"domain": [-1840, 32505], "nice": false, "zero": false}, "axis": null},
              "x2": {"datum": 32000},
              "y": {"datum": 0, "type": "quantitative", "scale": {"domain": [-131, 2097], "nice": false, "zero": false}, "axis": {"values": [0,200,400,600,800,1000,1200,1400,1600,1800,2000], "format": "d", "offset": -51, "domain": false, "grid": false, "tickSize": 6, "labelPadding": 3, "title": null}},
              "y2": {"datum": 2000}
            }
          },
          {
            "data": {"values": [{"g":0},{"g":200},{"g":400},{"g":600},{"g":800},{"g":1000},{"g":1200},{"g":1400},{"g":1600},{"g":1800}]},
            "mark": {"type": "rule", "stroke": "black", "strokeWidth": 1},
            "encoding": {
              "x": {"datum": 0, "type": "quantitative", "scale": {"domain": [-1840, 32505], "nice": false, "zero": false}, "axis": null},
              "x2": {"datum": 32000},
              "y": {"field": "g", "type": "quantitative", "scale": {"domain": [-131, 2097], "nice": false, "zero": false}, "axis": {"values": [0,200,400,600,800,1000,1200,1400,1600,1800,2000], "format": "d", "offset": -51, "domain": false, "grid": false, "tickSize": 6, "labelPadding": 3, "title": null}}
            }
          },
          {
            "data": {"values": [{}]},
            "mark": {"type": "rule", "stroke": "black", "strokeWidth": 1},
            "encoding": {
              "x": {"datum": 0, "type": "quantitative", "scale": {"domain": [-1840, 32505], "nice": false, "zero": false}, "axis": null},
              "y": {"datum": 0, "type": "quantitative", "scale": {"domain": [-131, 2097], "nice": false, "zero": false}, "axis": {"values": [0,200,400,600,800,1000,1200,1400,1600,1800,2000], "format": "d", "offset": -51, "domain": false, "grid": false, "tickSize": 6, "labelPadding": 3, "title": null}},
              "y2": {"datum": 2000}
            }
          },
          {
            "data": {"name": "d2"},
            "mark": {"type": "line", "stroke": "#000080", "strokeWidth": 1},
            "encoding": {
              "x": {"field": "i", "type": "quantitative", "scale": {"domain": [-1840, 32505], "nice": false, "zero": false}, "axis": null},
              "y": {"field": "v", "type": "quantitative", "scale": {"domain": [-131, 2097], "nice": false, "zero": false}, "axis": {"values": [0,200,400,600,800,1000,1200,1400,1600,1800,2000], "format": "d", "offset": -51, "domain": false, "grid": false, "tickSize": 6, "labelPadding": 3, "title": null}}
            }
          },
          {
            "data": {"values": [{}]},
            "mark": {"type": "text", "font": "Liberation Sans", "fontSize": 14.5, "color": "#222222", "align": "center", "baseline": "middle"},
            "encoding": {
              "x": {"datum": 16450, "type": "quantitative", "scale": {"domain": [-1840, 32505], "nice": false, "zero": false}, "axis": null},
              "y": {"datum": 1891, "type": "quantitative", "scale": {"domain": [-131, 2097], "nice": false, "zero": false}, "axis": {"values": [0,200,400,600,800,1000,1200,1400,1600,1800,2000], "format": "d", "offset": -51, "domain": false, "grid": false, "tickSize": 6, "labelPadding": 3, "title": null}},
              "text": {"value": "32000 mätpunkter"}
            }
          }
        ]
      }
    ]
  }
]
}
